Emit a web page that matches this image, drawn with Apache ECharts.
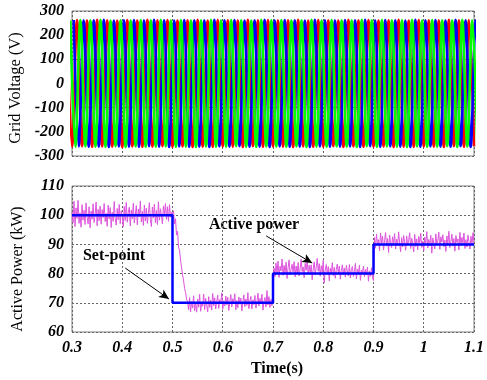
<!DOCTYPE html>
<html><head><meta charset="utf-8">
<script src="https://cdn.jsdelivr.net/npm/echarts@6/dist/echarts.min.js"></script>
<style>html,body{margin:0;padding:0;background:#fff}#c{width:487px;height:380px}</style>
</head><body><div id="c"></div><script>
// ---- Data ----
// Grid voltage: successive peak / trough values of each phase (half-cycle spacing, 50 Hz)
const peakStep = 0.01;
const redStart = 0.29, greenStart = 0.29667, blueStart = 0.30333;
const redPeaks = [262,-261,263,-259,261,-262,264,-260,262,-261,
  260,-263,263,-260,261,-262,264,-261,262,-259,
  263,-262,261,-260,262,-263,264,-261,260,-262,
  263,-260,262,-261,261,-263,264,-259,262,-262,
  263,-260,261,-261,262,-263,264,-260,260,-262,
  263,-261,262,-259,261,-263,264,-260,262,-262,
  263,-261,261,-260,262,-263,264,-261,260,-262,
  263,-260,262,-261,261,-263,264,-259,262,-262,
  263,-260];
const greenPeaks = [261,-262,263,-260,262,-261,264,-262,260,-259,
  262,-263,261,-260,263,-262,262,-261,264,-260,
  261,-262,263,-261,260,-263,262,-260,264,-262,
  261,-261,263,-259,262,-262,260,-263,264,-260,
  262,-261,263,-262,261,-260,262,-263,264,-261,
  260,-262,263,-260,262,-261,261,-263,264,-259,
  262,-262,263,-260,261,-261,262,-263,264,-260,
  260,-262,263,-261,262,-259,261,-263,264,-260,
  262,-261];
const bluePeaks = [263,-260,261,-262,262,-261,264,-263,260,-260,
  262,-261,263,-262,261,-259,264,-261,262,-263,
  260,-260,263,-262,262,-261,261,-263,264,-260,
  262,-261,263,-259,260,-262,262,-261,264,-263,
  261,-260,263,-262,262,-261,260,-263,264,-260,
  262,-262,261,-261,263,-260,262,-263,264,-259,
  261,-262,263,-260,262,-261,260,-263,264,-262,
  262,-260,263,-261,261,-262,264,-259,262,-263,
  261,-260];

// Active power samples (kW), every 2 ms from 0.3 s
const powerStart = 0.3, powerStep = 0.002;
const powerValues = [
  101.2,97.4,104.8,96.1,102.5,98.9,105.1,97.2,100.8,95.9,
  103.6,98.3,101.7,96.8,104.2,99.5,97.0,102.9,95.7,101.4,
  98.6,103.9,97.5,100.3,104.5,96.4,102.0,98.1,103.1,96.9,
  101.9,99.2,104.0,97.8,100.6,96.2,103.4,98.7,102.6,95.8,
  101.0,97.9,104.7,99.0,96.6,102.3,98.4,103.7,97.1,101.5,
  99.8,96.0,103.0,98.2,104.4,97.6,100.9,102.7,96.3,101.8,
  98.8,104.1,97.3,100.2,103.3,96.7,102.1,99.4,104.9,97.7,
  101.3,96.5,103.5,98.0,102.4,97.2,100.7,104.3,98.5,96.1,
  102.8,99.1,103.8,97.4,101.6,96.8,104.6,98.3,102.2,99.7,
  97.0,103.2,100.1,104.0,98.6,102.9,97.9,103.6,99.3,101.1,
  100.4,
  101.5,97.0,98.8,93.2,94.5,89.1,88.0,84.6,82.2,79.5,77.8,74.9,73.6,71.2,70.4,
  67.6,71.8,66.9,70.5,68.2,72.4,67.3,69.9,66.8,71.2,
  68.5,72.9,67.1,70.1,68.8,73.0,67.7,71.5,69.2,66.9,
  72.1,68.4,70.9,67.5,73.2,69.0,71.7,67.9,70.4,72.6,
  68.1,71.1,69.6,73.4,67.8,70.7,68.9,72.3,69.3,71.9,
  67.4,70.2,72.8,68.6,71.4,69.8,73.1,67.6,70.8,68.3,
  72.0,69.5,71.6,67.2,70.3,72.7,68.7,71.3,69.1,73.5,
  68.0,70.6,72.2,67.9,71.0,69.4,72.5,68.2,70.0,73.3,
  68.9,71.5,69.7,72.9,67.5,70.4,71.8,68.6,74.2,69.3,
  72.1,68.4,71.2,69.0,74.6,
  81.9,79.0,83.6,80.2,84.3,78.7,82.5,80.9,85.0,79.4,
  82.8,80.1,83.9,78.3,82.0,84.7,79.6,81.4,83.2,80.5,
  84.1,78.9,82.6,80.0,83.8,79.2,81.7,84.9,80.7,82.3,
  78.6,83.5,81.1,84.5,79.8,82.9,80.3,83.0,77.9,81.6,
  84.0,79.5,82.2,85.2,80.8,83.4,79.1,82.7,80.4,84.6,
  76.8,81.2,83.1,79.7,82.4,77.5,81.8,80.0,83.7,79.3,
  82.1,78.4,81.5,83.3,79.9,82.6,78.1,81.0,83.0,79.6,
  81.9,78.8,82.8,80.6,79.2,83.1,78.5,81.3,82.4,79.0,
  80.7,83.5,78.2,81.6,79.8,82.9,77.7,81.1,80.3,82.6,
  78.9,81.4,79.5,82.2,77.4,80.9,79.1,82.0,78.6,77.6,
  92.4,88.7,93.5,89.9,91.6,87.8,93.9,90.3,92.8,88.1,
  91.2,94.1,89.4,92.0,87.2,93.2,90.7,88.9,92.6,90.0,
  93.7,88.4,91.8,89.6,94.3,90.5,87.5,92.3,89.1,93.0,
  90.9,88.0,92.9,89.7,91.4,94.0,88.6,92.1,90.2,87.4,
  93.4,89.3,91.9,88.2,92.7,90.6,93.8,89.0,91.1,87.9,
  92.5,90.1,94.4,88.8,91.7,89.5,93.1,87.0,92.2,90.4,
  88.5,93.6,89.8,91.3,94.2,88.3,92.6,90.8,93.3,89.2,
  91.5,87.6,92.9,90.0,94.5,88.9,91.0,93.5,89.4,92.0,
  87.7,93.0,90.6,91.9,88.1,94.1,89.7,92.4,90.2,93.9,
  88.6,91.6,89.1,93.2,90.9,88.4,92.8,89.9,94.0,90.5];

// Set-point steps
const setTimes = [0.3, 0.5, 0.7, 0.9, 1.1];
const setValues = [100, 70, 80, 90, 90];

// Annotation arrows (data coordinates: start, end)
const setPointArrow = [[0.406, 81.9], [0.493, 71.3]];
const powerArrow = [[0.6865, 92.9], [0.778, 83.6]];

const xTicks = {min: 0.3, max: 1.1, interval: 0.1};
const vTicks = {min: -300, max: 300, interval: 100};
const pTicks = {min: 60, max: 110, interval: 10};

// ---- Build ----
const r4 = x => Math.round(x * 100000) / 100000;
const peaksToPts = (start, vals) => vals.map((v, i) => [r4(start + i * peakStep), v]);
const powerPts = powerValues.map((v, i) => [r4(powerStart + i * powerStep), v]);
const setPts = setTimes.map((t, i) => [t, setValues[i]]);

const serif = '"Liberation Serif","Times New Roman",serif';
const tickLabel = {fontFamily: serif, fontStyle: 'italic', fontWeight: 'bold', fontSize: 16, color: '#000', margin: 8};
const split = {show: true, lineStyle: {type: [2, 2], color: '#666', width: 1}};

const chart = echarts.init(document.getElementById('c'), null, {renderer: 'canvas'});
chart.setOption({
  animation: false,
  backgroundColor: '#fff',
  grid: [
    {left: 72, right: 13, top: 11, height: 145, show: true, borderColor: '#808080', borderWidth: 1},
    {left: 72, right: 13, top: 186, height: 146, show: true, borderColor: '#808080', borderWidth: 1}
  ],
  xAxis: [
    {gridIndex: 0, type: 'value', min: xTicks.min, max: xTicks.max, interval: xTicks.interval,
      axisLabel: {show: false}, axisTick: {show: false}, axisLine: {show: false}, splitLine: split},
    {gridIndex: 1, type: 'value', min: xTicks.min, max: xTicks.max, interval: xTicks.interval,
      axisLabel: tickLabel, axisTick: {show: false}, axisLine: {show: false}, splitLine: split}
  ],
  yAxis: [
    {gridIndex: 0, type: 'value', min: vTicks.min, max: vTicks.max, interval: vTicks.interval,
      axisLabel: tickLabel, axisTick: {show: false}, axisLine: {show: false}, splitLine: split},
    {gridIndex: 1, type: 'value', min: pTicks.min, max: pTicks.max, interval: pTicks.interval,
      axisLabel: tickLabel, axisTick: {show: false}, axisLine: {show: false}, splitLine: split}
  ],
  series: [
    {type: 'line', xAxisIndex: 0, yAxisIndex: 0, data: peaksToPts(redStart, redPeaks), smooth: 0.36,
      showSymbol: false, symbol: 'none', lineStyle: {color: '#ff0000', width: 2.6}},
    {type: 'line', xAxisIndex: 0, yAxisIndex: 0, data: peaksToPts(blueStart, bluePeaks), smooth: 0.36,
      showSymbol: false, symbol: 'none', lineStyle: {color: '#0000ff', width: 2.6}},
    {type: 'line', xAxisIndex: 0, yAxisIndex: 0, data: peaksToPts(greenStart, greenPeaks), smooth: 0.36,
      showSymbol: false, symbol: 'none', lineStyle: {color: '#00ff00', width: 2.6}},
    {type: 'line', xAxisIndex: 1, yAxisIndex: 1, data: powerPts, showSymbol: false, symbol: 'none',
      lineStyle: {color: '#dd55dd', width: 1},
      markLine: {silent: true, symbol: ['none', 'arrow'], symbolSize: [7, 10],
        lineStyle: {color: '#000', width: 1, type: 'solid'}, label: {show: false},
        data: [
          [{coord: setPointArrow[0]}, {coord: setPointArrow[1]}],
          [{coord: powerArrow[0]}, {coord: powerArrow[1]}]
        ]}},
    {type: 'line', xAxisIndex: 1, yAxisIndex: 1, data: setPts, step: 'end', showSymbol: false, symbol: 'none',
      lineStyle: {color: '#0000ff', width: 2.5}}
  ],
  graphic: [
    {type: 'text', x: 16, y: 88, rotation: Math.PI / 2,
      style: {text: 'Grid Voltage (V)', fontFamily: serif, fontSize: 16.5, fill: '#000',
        textAlign: 'center', textVerticalAlign: 'middle', align: 'center', verticalAlign: 'middle'}},
    {type: 'text', x: 18, y: 269, rotation: Math.PI / 2,
      style: {text: 'Active Power (kW)', fontFamily: serif, fontSize: 16, fill: '#000',
        textAlign: 'center', textVerticalAlign: 'middle', align: 'center', verticalAlign: 'middle'}},
    {type: 'text', x: 277, y: 369,
      style: {text: 'Time(s)', fontFamily: serif, fontSize: 16, fontWeight: 'bold', fill: '#000',
        textAlign: 'center', textVerticalAlign: 'middle', align: 'center', verticalAlign: 'middle'}},
    {type: 'text', x: 114, y: 256,
      style: {text: 'Set-point', fontFamily: serif, fontSize: 16, fontWeight: 'bold', fill: '#000',
        textAlign: 'center', textVerticalAlign: 'middle', align: 'center', verticalAlign: 'middle'}},
    {type: 'text', x: 254, y: 225,
      style: {text: 'Active power', fontFamily: serif, fontSize: 16, fontWeight: 'bold', fill: '#000',
        textAlign: 'center', textVerticalAlign: 'middle', align: 'center', verticalAlign: 'middle'}}
  ]
});
</script></body></html>
